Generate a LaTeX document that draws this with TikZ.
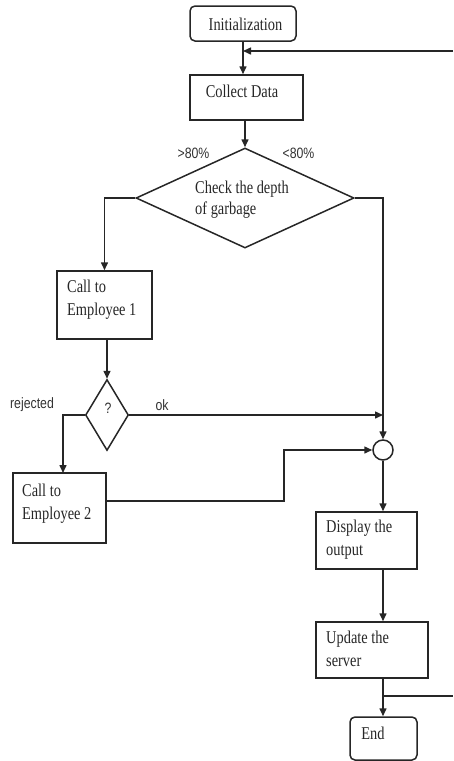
\documentclass[tikz,border=0pt]{standalone}
\usepackage{fontspec}
\setmainfont{Liberation Serif}[FakeStretch=0.8]
\newfontfamily\labfont{Liberation Sans}[FakeStretch=0.82]
\usetikzlibrary{arrows.meta,shapes.geometric}
\begin{document}
\begin{tikzpicture}[x=1pt,y=-1pt,
  line/.style={line width=1.5pt,draw=black!85},
  arr/.style={line,-{Triangle[length=8pt,width=7pt]}},
  procbox/.style={draw=black!85,line width=1.5pt,rectangle,inner sep=0pt},
  termbox/.style={procbox,rounded corners=5pt},
  decbox/.style={draw=black!85,line width=1.5pt,diamond,inner sep=0pt},
  txt/.style={inner sep=0pt,align=left,font=\fontsize{18}{23}\selectfont,text=black!85},
  lab/.style={inner sep=0pt,font=\labfont\fontsize{15}{17}\selectfont,text=black!80}]
\useasboundingbox (0,0) rectangle (453,761);
% boxes
\node[termbox,minimum width=106pt,minimum height=35pt] (init) at (243,23.5) {};
\node[txt] (initt) at (245.5,24) {Initialization};
\node[procbox,minimum width=113pt,minimum height=45pt] (collect) at (246.5,97.5) {};
\node[txt] (collectt) at (242,91) {Collect Data};
\node[decbox,minimum width=218pt,minimum height=100pt] (dia) at (245,198) {};
\node[txt,anchor=west] (diat) at (195,200) {Check the depth\\[-2pt]of garbage};
\node[lab] (gt) at (193.5,153) {>80\%};
\node[lab] (lt) at (298.5,153) {<80\%};
\node[procbox,minimum width=95pt,minimum height=68pt] (emp1) at (104.5,305) {};
\node[txt,anchor=west] (emp1t) at (67,300) {Call to\\Employee 1};
\node[decbox,minimum width=43pt,minimum height=71pt] (q) at (107,415) {};
\node[lab] (qt) at (108,408) {?};
\node[lab] (rejt) at (32,405) {rejected};
\node[lab] (okt) at (162,405) {ok};
\node[procbox,minimum width=93pt,minimum height=70pt] (emp2) at (59.5,508) {};
\node[txt,anchor=west] (emp2t) at (22,503.5) {Call to\\Employee 2};
\node[draw=black!85,line width=1.5pt,circle,minimum size=20pt,inner sep=0pt] (circ) at (383,450) {};
\node[procbox,minimum width=101pt,minimum height=57pt] (disp) at (366.5,540.5) {};
\node[txt,anchor=west] (dispt) at (326,539.5) {Display the\\output};
\node[procbox,minimum width=112pt,minimum height=56pt] (upd) at (372,650) {};
\node[txt,anchor=west] (updt) at (326,648.5) {Update the\\server};
\node[termbox,minimum width=67pt,minimum height=43pt] (endn) at (383.5,738.5) {};
\node[txt] (endt) at (373,733) {End};
% coordinates
\coordinate (fbin) at (453,51);
\coordinate (fbout) at (453,696);
\coordinate (jb) at (383,696);
\coordinate (okend) at (383,415);
\coordinate (rj) at (63,473);
\coordinate (e2k) at (284,501);
% connectors
\draw[arr] (init.south) -- (init.south |- collect.north);
\draw[arr] (fbin) -- (init.south |- fbin);
\draw[arr] (dia.north |- collect.south) -- (dia.north);
\draw[arr] (dia.west) -| (emp1.north);
\draw[arr] (dia.east) -| (circ.north);
\draw[arr] (q.north |- emp1.south) -- (q.north);
\draw[arr] (q.east) -- (okend);
\draw[arr] (q.west) -| (rj);
\draw[arr] (emp2.east |- e2k) -- (e2k) |- (circ.west);
\draw[arr] (circ.south) -- (circ.south |- disp.north);
\draw[arr] (circ.south |- disp.south) -- (circ.south |- upd.north);
\draw[arr] (circ.south |- upd.south) -- (circ.south |- endn.north);
\draw[line] (jb) -- (fbout);
\end{tikzpicture}
\end{document}
